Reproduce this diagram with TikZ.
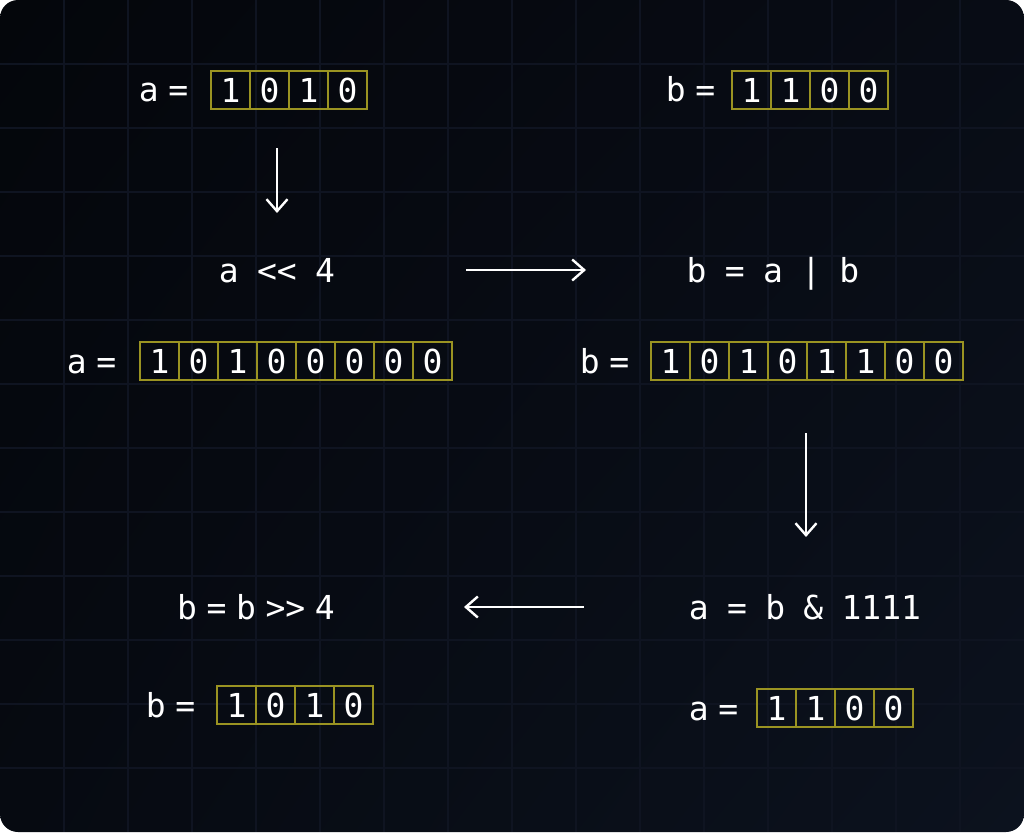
\documentclass[tikz,border=0pt]{standalone}
\usepackage{fontspec}
\usepackage{tikz}
\usetikzlibrary{arrows.meta}
\usetikzlibrary{positioning}
\usetikzlibrary{calc}
\usetikzlibrary{shadings}
\newfontfamily\codefont{DejaVu Sans Mono}
\newcommand{\wsp}{\hspace{18.3pt}}
\newcommand{\nsp}{\hspace{9.6pt}}
\definecolor{cellgold}{HTML}{9A9322}
\definecolor{gridcol}{HTML}{0F1421}
\definecolor{bgul}{HTML}{04060B}
\definecolor{bgur}{HTML}{080C15}
\definecolor{bgll}{HTML}{060A11}
\definecolor{bglr}{HTML}{0C121E}
\tikzset{
    bitcell/.style={draw=cellgold, line width=1.3pt, minimum width=39pt, minimum height=38pt,
        inner sep=0pt, text=white, font=\codefont\fontsize{33}{40}\selectfont},
    regname/.style={text=white, inner sep=0pt, anchor=base east,
        font=\codefont\fontsize{33}{40}\selectfont},
    expr/.style={text=white, inner sep=0pt, anchor=base,
        font=\codefont\fontsize{33}{40}\selectfont},
    flow/.style={draw=white, line width=2.4pt, -{Straight Barb[length=12pt,width=21pt]}},
    gridline/.style={draw=gridcol, line width=1.3pt},
}
% one register: name, left x, top y, bits
\newcommand{\bitrow}[4]{%
    \foreach \d [count=\i] in {#4}
        \node[bitcell] (#1-\i) at ({#2+39*\i-19.5},{#3+19}) {\d};
}

\begin{document}
\begin{tikzpicture}[x=1pt, y=-1pt]
    \useasboundingbox (0,0) rectangle (1024,832);
    \fill[white] (0,0) rectangle (1024,832);
    \shade[rounded corners=18pt, upper left=bgul, upper right=bgur,
        lower left=bgll, lower right=bglr] (0,0) rectangle (1024,832);
    \begin{scope}
        \clip[rounded corners=18pt] (0,0) rectangle (1024,832);
        \foreach \k in {1,...,15}
            \draw[gridline] ({64*\k},0) -- ({64*\k},832);
        \foreach \k in {1,...,12}
            \draw[gridline] (0,{64*\k}) -- (1024,{64*\k});
    \end{scope}

    % registers
    \bitrow{atop}{211}{71}{1,0,1,0}
    \bitrow{btop}{732}{71}{1,1,0,0}
    \bitrow{ashl}{140}{342}{1,0,1,0,0,0,0,0}
    \bitrow{bor}{651}{342}{1,0,1,0,1,1,0,0}
    \bitrow{aand}{757}{689}{1,1,0,0}
    \bitrow{bshr}{217}{686}{1,0,1,0}
    \node[regname] (natop) at ([xshift=-22pt, yshift=-12pt]atop-1.west) {a\nsp=};
    \node[regname] (nbtop) at ([xshift=-16pt, yshift=-12pt]btop-1.west) {b\nsp=};
    \node[regname] (nashl) at ([xshift=-23pt, yshift=-12pt]ashl-1.west) {a\nsp=};
    \node[regname] (nbor) at ([xshift=-21pt, yshift=-12pt]bor-1.west) {b\nsp=};
    \node[regname] (naand) at ([xshift=-18pt, yshift=-12pt]aand-1.west) {a\nsp=};
    \node[regname] (nbshr) at ([xshift=-21pt, yshift=-12pt]bshr-1.west) {b\nsp=};

    % operations
    \node[expr] (shl) at (277,282) {a\wsp<<\wsp4};
    \node[expr] (ior) at (773,282) {b\wsp=\wsp a\wsp|\wsp b};
    \node[expr] (band) at (805,619) {a\wsp=\wsp b\wsp\&\wsp1111};
    \node[expr] (shr) at (256,619) {b\nsp=\nsp b\nsp>>\nsp4};

    % arrows
    \coordinate (d1s) at (277,148);
    \coordinate (d1e) at (277,213);
    \coordinate (r1s) at (466,270);
    \coordinate (r1e) at (586,270);
    \coordinate (d2s) at (806,433);
    \coordinate (d2e) at (806,537);
    \coordinate (l1s) at (584,607);
    \coordinate (l1e) at (464,607);
    \draw[flow] (d1s) -- (d1e);
    \draw[flow] (r1s) -- (r1e);
    \draw[flow] (d2s) -- (d2e);
    \draw[flow] (l1s) -- (l1e);
\end{tikzpicture}
\end{document}
